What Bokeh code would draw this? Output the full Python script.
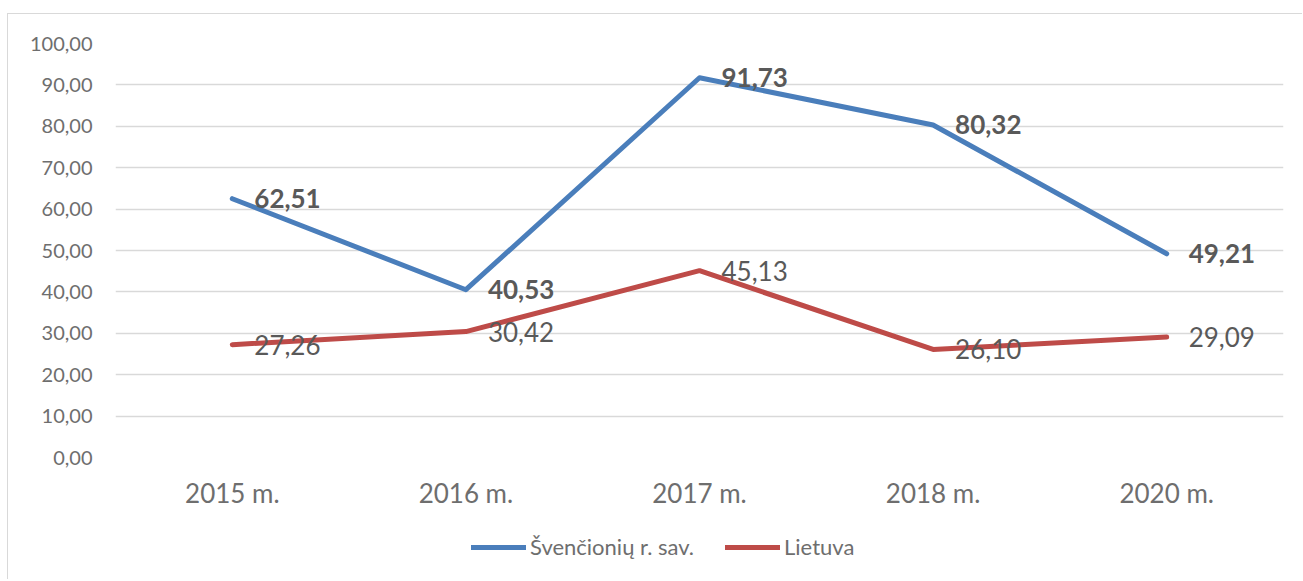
from bokeh.plotting import figure
from bokeh.layouts import column
from bokeh.models import (ColumnDataSource, FactorRange, FixedTicker, CustomJSTickFormatter,
                          Legend, LegendItem, Range1d)
from bokeh.core.properties import value
from bokeh.embed import file_html
from bokeh.resources import INLINE

categories = ["2015 m.", "2016 m.", "2017 m.", "2018 m.", "2020 m."]
svencioniu = [62.51, 40.53, 91.73, 80.32, 49.21]
lietuva = [27.26, 30.42, 45.13, 26.10, 29.09]
series_names = ["Švenčionių r. sav.", "Lietuva"]
y_ticks = [0, 10, 20, 30, 40, 50, 60, 70, 80, 90, 100]

BLUE = "#4A7EBB"
RED = "#BE4B48"
TEXT = "#595959"
AXIS_TEXT = "#6E6E6E"
FONT = "Lato"
BORDER = "1px solid #D9D9D9"

def fmt(v):
    return f"{v:.2f}".replace(".", ",")

src = ColumnDataSource(dict(
    x=categories,
    s=svencioniu,
    l=lietuva,
    s_lab=[fmt(v) for v in svencioniu],
    l_lab=[fmt(v) for v in lietuva],
))

p = figure(x_range=FactorRange(*categories, range_padding=0),
           y_range=Range1d(0, 100),
           width=1295, height=500,
           output_backend="svg", toolbar_location=None,
           min_border_left=107, min_border_right=20,
           min_border_top=29, min_border_bottom=57)
p.styles = {"border-top": BORDER, "border-left": BORDER}
p.outline_line_color = None
p.background_fill_color = "white"
p.border_fill_color = "white"

p.line("x", "s", source=src, line_color=BLUE, line_width=5, line_cap="round", line_join="round")
p.line("x", "l", source=src, line_color=RED, line_width=5, line_cap="round", line_join="round")

p.text("x", "s", text="s_lab", source=src, x_offset=22, text_align="left", text_baseline="middle",
       text_font=value(FONT), text_font_style="bold", text_font_size="26px", text_color=TEXT)
p.text("x", "l", text="l_lab", source=src, x_offset=22, text_align="left", text_baseline="middle",
       text_font=value(FONT), text_font_size="26px", text_color=TEXT)

p.yaxis.ticker = FixedTicker(ticks=y_ticks)
p.yaxis.formatter = CustomJSTickFormatter(code="return tick.toFixed(2).replace('.', ',');")
p.yaxis.axis_line_color = None
p.yaxis.major_tick_line_color = None
p.yaxis.minor_tick_line_color = None
p.yaxis.major_tick_out = 0
p.yaxis.major_label_text_font = FONT
p.yaxis.major_label_text_font_size = "20px"
p.yaxis.major_label_text_color = AXIS_TEXT
p.yaxis.major_label_standoff = 23

p.xaxis.axis_line_color = None
p.xaxis.major_tick_line_color = None
p.xaxis.major_tick_out = 0
p.xaxis.major_label_text_font = FONT
p.xaxis.major_label_text_font_size = "26px"
p.xaxis.major_label_text_color = AXIS_TEXT
p.xaxis.major_label_standoff = 19

p.xgrid.grid_line_color = None
p.ygrid.grid_line_color = "#D9D9D9"
p.ygrid.grid_line_width = 1.5

# legend strip (its frame is aligned with the main frame by the column layout)
p2 = figure(x_range=Range1d(0, 1), y_range=Range1d(0, 1), width=1295, height=66,
            output_backend="svg", toolbar_location=None,
            x_axis_location=None, y_axis_location=None,
            min_border_left=0, min_border_right=0, min_border_top=0, min_border_bottom=0)
p2.styles = {"border-left": BORDER}
p2.grid.visible = False
p2.outline_line_color = None
p2.border_fill_color = "white"
idx = list(range(len(categories)))
l1 = p2.line(x=idx, y=svencioniu, line_color=BLUE, line_width=5, line_cap="round", visible=False)
l2 = p2.line(x=idx, y=lietuva, line_color=RED, line_width=5, line_cap="round", visible=False)

legend = Legend(items=[LegendItem(label=series_names[0], renderers=[l1]),
                       LegendItem(label=series_names[1], renderers=[l2])],
                orientation="horizontal", location=(356, 19),
                glyph_width=55, glyph_height=20, label_standoff=4, spacing=31,
                padding=0, margin=0, border_line_color=None, background_fill_alpha=0,
                inactive_fill_alpha=0, click_policy="none",
                label_text_font=FONT, label_text_font_size="22px", label_text_color=AXIS_TEXT)
p2.add_layout(legend, "center")

layout = column(p, p2, spacing=0, margin=(13, 0, 0, 7))

open("out.html", "w").write(file_html(layout, INLINE))
